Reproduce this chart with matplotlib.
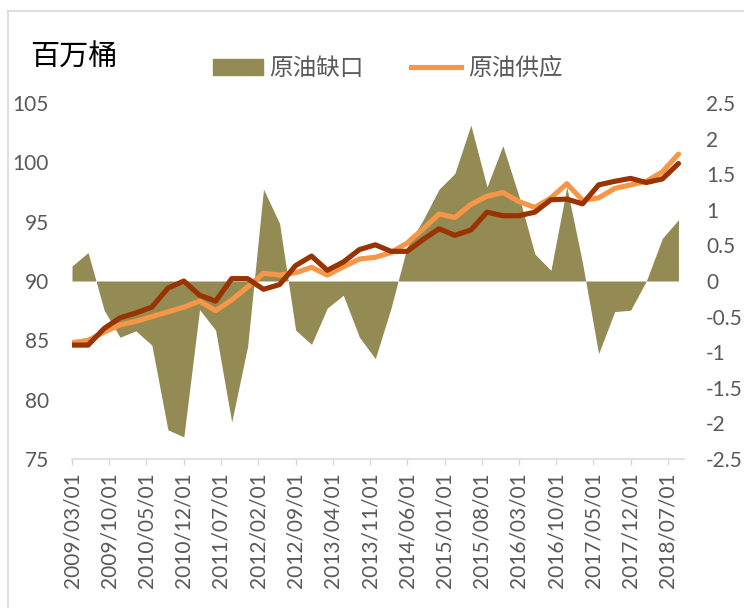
import pandas as pd
import matplotlib
matplotlib.use('Agg')
import matplotlib.pyplot as plt
import matplotlib.patches as mpatches
from matplotlib.lines import Line2D
from matplotlib.ticker import FuncFormatter

plt.rcParams['font.family'] = ['Lato', 'Noto Sans CJK SC', 'DejaVu Sans']
plt.rcParams['axes.unicode_minus'] = False

# quarterly data, 2009/03 .. 2018/09
dates = pd.date_range('2009-03-01', periods=39, freq='3MS')

# 原油供应 (orange, left axis)
supply = [84.8, 85.0, 85.7, 86.3, 86.6, 87.0, 87.4, 87.8, 88.3, 87.5,
          88.4, 89.5, 90.65, 90.5, 90.7, 91.15, 90.5, 91.2, 91.85, 92.0,
          92.4, 93.2, 94.4, 95.65, 95.35, 96.45, 97.15, 97.45, 96.7, 96.2,
          97.0, 98.2, 96.8, 97.0, 97.8, 98.1, 98.4, 99.2, 100.7]

# unlabelled dark line (left axis)
demand = [84.6, 84.6, 86.0, 86.9, 87.3, 87.8, 89.4, 90.0, 88.8, 88.3,
          90.2, 90.2, 89.3, 89.7, 91.3, 92.1, 90.9, 91.6, 92.65, 93.05,
          92.5, 92.5, 93.5, 94.4, 93.85, 94.3, 95.8, 95.5, 95.5, 95.8,
          96.85, 96.9, 96.5, 98.1, 98.4, 98.65, 98.3, 98.6, 99.9]

# 原油缺口 (olive area, right axis)
gap = [0.21, 0.40, -0.41, -0.79, -0.70, -0.90, -2.09, -2.19, -0.40, -0.69,
       -1.98, -0.92, 1.29, 0.81, -0.69, -0.89, -0.38, -0.20, -0.79, -1.09,
       -0.38, 0.48, 0.86, 1.29, 1.51, 2.19, 1.32, 1.90, 1.20, 0.38,
       0.15, 1.32, 0.25, -1.02, -0.43, -0.41, 0.0, 0.60, 0.86]

tick_dates = pd.date_range('2009-03-01', '2018-07-01', freq='7MS')
left_ticks = [75, 80, 85, 90, 95, 100, 105]
right_ticks = [-2.5, -2, -1.5, -1, -0.5, 0, 0.5, 1, 1.5, 2, 2.5]

OLIVE = '#948A54'
ORANGE = '#F79646'
DARK = '#993300'
GREY_TXT = '#595959'
GREY_LINE = '#D9D9D9'

W, H = 744, 608
fig = plt.figure(figsize=(W / 100, H / 100), dpi=100)
ax = fig.add_axes([72 / W, 1 - 459 / H, (683.7 - 72) / W, (459 - 103) / H])
ax2 = ax.twinx()

# area on the secondary axis, drawn behind the lines
ax2.fill_between(dates, gap, 0, color=OLIVE, linewidth=0)
ax.set_zorder(ax2.get_zorder() + 1)
ax.patch.set_visible(False)

ax.plot(dates, supply, color=ORANGE, linewidth=3.7,
        solid_capstyle='round', solid_joinstyle='round')
ax.plot(dates, demand, color=DARK, linewidth=3.7,
        solid_capstyle='round', solid_joinstyle='round')

ax.set_xlim(pd.Timestamp('2009-03-01'), pd.Timestamp('2018-10-01'))
ax.set_ylim(75, 105)
ax2.set_ylim(-2.5, 2.5)

ax.set_xticks(tick_dates)
ax.set_xticklabels([d.strftime('%Y/%m/%d') for d in tick_dates],
                   rotation=90, fontsize=15, color=GREY_TXT)
ax.tick_params(axis='x', length=4.3, width=1.0, color=GREY_LINE, pad=5.5)

ax.set_yticks(left_ticks)
ax.set_yticklabels([str(v) for v in left_ticks], fontsize=15, color=GREY_TXT)
ax.tick_params(axis='y', length=0, pad=16.5)

ax2.set_yticks(right_ticks)
ax2.yaxis.set_major_formatter(FuncFormatter(lambda v, p: f'{v:g}'))
ax2.tick_params(axis='y', length=0, pad=16, labelsize=15, labelcolor=GREY_TXT)

for sp in ['top', 'left', 'right']:
    ax.spines[sp].set_visible(False)
for sp in ax2.spines.values():
    sp.set_visible(False)
ax.spines['bottom'].set_color(GREY_LINE)
ax.spines['bottom'].set_linewidth(1.1)

# unit label and legend
fig.text(30 / W, 1 - 57 / H, '百万桶', fontsize=21, color='black',
         va='center', ha='left')

handles = [mpatches.Patch(color=OLIVE, label='原油缺口'),
           Line2D([], [], color=ORANGE, linewidth=3.7, label='原油供应')]
fig.legend(handles=handles, loc='center left',
           bbox_to_anchor=(213 / W, 1 - 68 / H), ncol=2, frameon=False,
           fontsize=17, labelcolor=GREY_TXT, handlelength=2.1,
           handleheight=0.7, handletextpad=0.3, columnspacing=2.0,
           borderpad=0, borderaxespad=0)

# chart frame (only left and top edges fall inside the picture)
fig.add_artist(Line2D([8 / W, 8 / W], [0, 1 - 11 / H], transform=fig.transFigure,
                      color=GREY_LINE, linewidth=1.2))
fig.add_artist(Line2D([8 / W, 1], [1 - 11 / H, 1 - 11 / H],
                      transform=fig.transFigure, color=GREY_LINE, linewidth=1.2))

fig.savefig('out.png', dpi=100)
